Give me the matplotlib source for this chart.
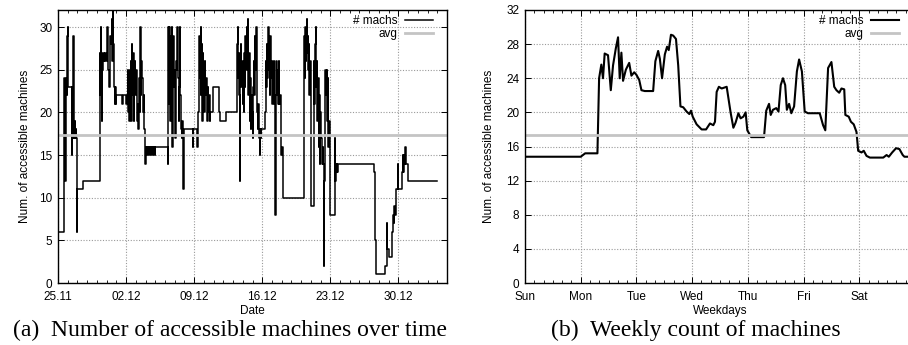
"""Accessible machines: raw count over time and the average weekly profile."""

import matplotlib
matplotlib.use("Agg")
import matplotlib.pyplot as plt
from matplotlib.ticker import MultipleLocator

# ---------------------------------------------------------------------------
# Data
# ---------------------------------------------------------------------------

# (a) raw count, days since 25.11 (step changes)
date_days = [
    0.00, 0.66, 0.70, 0.74, 0.78, 0.82, 0.86, 0.90, 0.95, 1.00, 1.04, 1.40, 1.45,
    1.52, 1.56, 1.60, 1.64, 1.68, 1.72, 1.76, 1.80, 1.86, 1.92, 1.96, 2.62,
    4.32, 4.36, 4.40, 4.44, 4.48, 4.52, 4.56, 4.62, 4.70, 4.78, 4.86, 4.94, 5.05,
    5.10, 5.18, 5.24, 5.30, 5.38, 5.45, 5.52, 5.58, 5.62, 5.68, 5.72, 5.76, 5.82,
    5.88, 5.94, 6.00, 6.60, 6.65, 7.02, 7.07,
    7.20, 7.24, 7.28, 7.32, 7.36, 7.42, 7.48, 7.54, 7.60, 7.66, 7.72, 7.78, 7.84,
    7.90, 7.96, 8.02, 8.08, 8.14, 8.20, 8.26, 8.32, 8.40, 8.46, 8.52, 8.58, 8.64,
    8.70, 8.76, 8.82, 8.88, 8.94, 8.98, 9.02,
    9.15, 9.20, 9.35, 9.40, 9.55, 9.60, 9.75, 9.80, 9.95, 10.00, 11.32,
    11.36, 11.40, 11.44, 11.48, 11.52, 11.56, 11.60, 11.64, 11.68, 11.72, 11.76,
    11.80, 11.84, 11.88, 11.92, 11.98, 12.04, 12.10, 12.16, 12.22, 12.28, 12.34,
    12.40, 12.46, 12.52, 12.58, 12.64, 12.70, 12.76, 12.82, 12.88, 12.92, 12.98,
    13.86, 13.90, 14.32, 14.36,
    14.42, 14.46, 14.50, 14.54, 14.58, 14.62, 14.66, 14.70, 14.74, 14.78, 14.82,
    14.86, 14.90, 14.95, 15.00, 15.05, 15.10, 15.16, 15.22, 15.28, 15.34, 15.40,
    15.46, 15.52, 15.60, 15.66, 15.95, 16.55, 16.70, 17.30, 17.36,
    18.36, 18.40, 18.46, 18.52, 18.58, 18.64, 18.70, 18.74, 18.80, 18.86, 18.92,
    18.98, 19.04, 19.10, 19.16, 19.22, 19.28, 19.34, 19.40, 19.46, 19.52, 19.58,
    19.64, 19.70, 19.76, 19.82, 19.88, 19.94, 20.00, 20.06, 20.12, 20.18, 20.24,
    20.30, 20.36, 20.42, 20.48, 20.54, 20.60, 20.66, 20.72, 20.78, 20.86, 20.92,
    21.30, 21.36, 21.42, 21.48, 21.54, 21.60, 21.66, 21.72, 21.78, 21.84, 21.90,
    21.96, 22.02, 22.08, 22.14, 22.20, 22.26, 22.32, 22.36, 22.40, 22.46, 22.52,
    22.58, 22.64, 22.70, 22.76, 22.84, 22.92, 22.98, 23.04, 23.12,
    25.30, 25.36, 25.42, 25.48, 25.54, 25.58, 25.62, 25.68, 25.74, 25.80, 25.86,
    25.92, 25.98, 26.04, 26.28, 26.32, 26.38, 26.44, 26.50, 26.56, 26.62, 26.68,
    26.74, 26.80, 26.86, 26.92, 26.98, 27.04, 27.10, 27.16, 27.22, 27.28, 27.34,
    27.38, 27.44, 27.50, 27.56, 27.62, 27.68, 27.74, 27.80, 27.86, 27.92, 27.96,
    28.44, 28.48, 28.54, 28.60, 28.66, 28.72, 28.78,
    32.50, 32.64, 32.68, 33.62, 33.80, 33.84, 34.06, 34.30, 34.36, 34.44, 34.52,
    34.58, 34.66, 34.72, 34.80, 34.96, 35.00, 35.40, 35.46, 35.52, 35.58, 35.64,
    35.70, 35.80, 35.94, 39.00,
]
machs = [
    6, 24, 16, 12, 21, 12, 24, 22, 29, 30, 23, 15, 23,
    17, 29, 19, 26, 17, 19, 17, 18, 17, 6, 11, 12,
    27, 22, 30, 25, 19, 27, 25, 26, 27, 26, 27, 26, 30,
    26, 25, 23, 26, 29, 28, 31, 26, 32, 28, 24, 23, 21,
    23, 21, 22, 21, 22, 21, 22,
    25, 20, 23, 19, 25, 21, 26, 19, 28, 22, 27, 19, 24,
    26, 22, 25, 20, 19, 21, 18, 24, 20, 30, 22, 26, 24,
    22, 20, 22, 18, 16, 14, 16,
    15, 16, 15, 16, 15, 16, 15, 16, 15, 16, 14,
    30, 21, 30, 23, 30, 19, 29, 24, 30, 25, 16,
    25, 29, 23, 25, 20, 17, 25, 26, 25, 30, 24,
    19, 23, 30, 22, 18, 17, 19, 17, 11, 17, 18,
    16, 18, 16, 18,
    20, 25, 22, 29, 24, 27, 22, 30, 25, 28, 19,
    23, 27, 22, 25, 20, 26, 22, 24, 21, 19, 23,
    20, 22, 19, 20, 23, 20, 19, 20, 20,
    22, 28, 30, 24, 27, 22, 12, 25, 28, 23, 26,
    21, 24, 20, 27, 23, 29, 25, 30, 26, 31, 22,
    27, 19, 24, 18, 22, 20, 17, 23, 26, 22, 29,
    25, 30, 24, 20, 18, 21, 17, 15, 18, 17, 18,
    20, 26, 23, 28, 24, 30, 25, 27, 22, 29, 24,
    26, 21, 25, 22, 26, 21, 22, 8, 21, 26, 22,
    25, 21, 26, 21, 22, 16, 15, 16, 10,
    29, 24, 30, 26, 29, 31, 27, 29, 25, 28, 22,
    26, 20, 9, 26, 21, 25, 28, 30, 23, 26, 19,
    24, 16, 22, 14, 20, 17, 15, 14, 16, 14, 2,
    12, 20, 25, 22, 25, 19, 24, 16, 19, 14, 8,
    17, 12, 14, 13, 14, 13, 14,
    13, 5, 1, 2, 7, 4, 3, 4, 6, 8, 7,
    9, 8, 10, 11, 14, 11, 13, 15, 13, 15, 14,
    16, 14, 12, 12,
]
date_ticks = [0, 7, 14, 21, 28, 35]
date_labels = ["25.11", "02.12", "09.12", "16.12", "23.12", "30.12"]

# (b) average over the week, days since Sunday 00:00
week_days = [
    0.00, 0.50, 0.93, 1.00, 1.08, 1.30, 1.33, 1.37, 1.40, 1.43, 1.49, 1.54, 1.58,
    1.63, 1.67, 1.70, 1.73, 1.76, 1.81, 1.87, 1.91, 1.96, 2.00, 2.05, 2.09, 2.15,
    2.30, 2.34, 2.39, 2.42, 2.46, 2.51, 2.55, 2.58, 2.62, 2.66, 2.71, 2.75, 2.79,
    2.84, 2.90, 2.95, 2.98, 3.01, 3.08, 3.17, 3.25, 3.32, 3.38, 3.41, 3.44, 3.48,
    3.53, 3.62, 3.69, 3.74, 3.78, 3.83, 3.87, 3.92, 3.96, 3.99, 4.06, 4.29, 4.33,
    4.38, 4.41, 4.45, 4.51, 4.55, 4.59, 4.63, 4.67, 4.70, 4.74, 4.78, 4.83, 4.88,
    4.92, 4.97, 5.02, 5.08, 5.29, 5.35, 5.39, 5.44, 5.50, 5.55, 5.59, 5.64, 5.68,
    5.73, 5.75, 5.81, 5.85, 5.90, 5.95, 5.98, 6.04, 6.08, 6.13, 6.19, 6.43, 6.49,
    6.53, 6.59, 6.66, 6.72, 6.78, 6.81, 6.93, 7.00,
]
week_machs = [
    14.8, 14.8, 14.8, 14.8, 15.2, 15.2, 24.0, 25.6, 24.0, 26.9, 26.7, 22.6, 25.5,
    27.5, 28.8, 24.0, 27.0, 23.7, 25.0, 25.8, 24.3, 24.7, 24.4, 23.8, 22.6, 22.5,
    22.5, 26.0, 27.2, 26.3, 24.0, 26.8, 27.7, 27.3, 29.1, 29.0, 28.6, 25.5, 20.7,
    20.6, 20.1, 19.8, 20.2, 19.5, 18.6, 18.0, 18.0, 18.7, 18.5, 18.9, 22.4, 23.0,
    22.8, 23.0, 20.0, 18.2, 18.8, 19.9, 19.3, 19.5, 20.0, 17.9, 17.1, 17.1, 20.2,
    21.0, 19.7, 20.3, 20.5, 20.1, 23.2, 24.0, 23.2, 20.3, 21.0, 19.9, 20.7, 24.8,
    26.2, 24.8, 20.1, 19.9, 19.9, 18.5, 17.9, 25.2, 25.9, 23.0, 22.6, 22.3, 22.8,
    22.7, 19.7, 19.5, 18.9, 18.6, 17.7, 15.5, 15.3, 15.5, 14.9, 14.7, 14.7, 15.0,
    14.8, 15.3, 15.8, 15.7, 15.0, 14.8, 14.8, 14.8,
]
weekday_labels = ["Sun", "Mon", "Tue", "Wed", "Thu", "Fri", "Sat"]

AVG = 17.4

# ---------------------------------------------------------------------------
# Style
# ---------------------------------------------------------------------------

plt.rcParams["font.family"] = ["Liberation Sans", "DejaVu Sans"]
FS = 8.5

W, H = 908, 345
fig = plt.figure(figsize=(W / 100, H / 100), dpi=100)


def px_axes(x0, y0, x1, y1):
    return fig.add_axes([x0 / W, 1 - y1 / H, (x1 - x0) / W, (y1 - y0) / H])


def gnuplot_style(ax, right_gap):
    ax.grid(True, which="major", color="#9a9a9a", linestyle=(0, (1, 1.5)), linewidth=0.8)
    ax.tick_params(which="both", direction="in", top=True, right=True,
                   labelsize=FS, colors="black")
    ax.tick_params(which="major", length=4, width=0.7)
    ax.tick_params(which="minor", length=2.5, width=0.6)
    ax.tick_params(axis="x", which="major", pad=5.5)
    ax.tick_params(axis="y", which="major", pad=4)
    for s in ax.spines.values():
        s.set_linewidth(1.0)
    ax.legend(loc="upper right", bbox_to_anchor=(1 - right_gap, 0.98),
              frameon=False, markerfirst=False, fontsize=FS,
              handlelength=2.4, handletextpad=0.6, labelspacing=0.05,
              borderaxespad=0.0, borderpad=0.0)


# ── (a) Number of accessible machines over time ─────────────────────────────
ax1 = px_axes(58, 10, 447, 283)
ax1.step(date_days, machs, where="post", color="black", linewidth=1.1, label="# machs")
ax1.axhline(AVG, color="#c4c4c4", linewidth=2.0, label="avg")
ax1.set_xlim(0, 40)
ax1.set_ylim(0, 32)
ax1.set_xticks(date_ticks)
ax1.set_xticklabels(date_labels)
ax1.xaxis.set_minor_locator(MultipleLocator(1))
ax1.set_yticks(range(0, 31, 5))
ax1.set_xlabel("Date", fontsize=FS, labelpad=2)
ax1.set_ylabel("Num. of accessible machines", fontsize=FS, labelpad=6)
gnuplot_style(ax1, 14 / 389)

# ── (b) Weekly count of machines ─────────────────────────────────────────────
ax2 = px_axes(525, 10, 915, 283)
ax2.plot(week_days, week_machs, color="black", linewidth=1.5, label="# machs")
ax2.axhline(AVG, color="#c4c4c4", linewidth=2.0, label="avg")
ax2.set_xlim(0, 7)
ax2.set_ylim(0, 32)
ax2.set_xticks(range(7))
ax2.set_xticklabels(weekday_labels)
ax2.xaxis.set_minor_locator(MultipleLocator(1 / 6))
ax2.set_yticks(range(0, 33, 4))
ax2.set_xlabel("Weekdays", fontsize=FS, labelpad=2)
ax2.set_ylabel("Num. of accessible machines", fontsize=FS, labelpad=8)
gnuplot_style(ax2, 16 / 390)

# sub-figure captions
cap = dict(family=["Liberation Serif", "DejaVu Serif"], fontsize=17,
           ha="center", va="center")
fig.text(230 / W, 1 - 330 / H, "(a)  Number of accessible machines over time", **cap)
fig.text(696 / W, 1 - 330 / H, "(b)  Weekly count of machines", **cap)

fig.savefig("out.png", dpi=100)
